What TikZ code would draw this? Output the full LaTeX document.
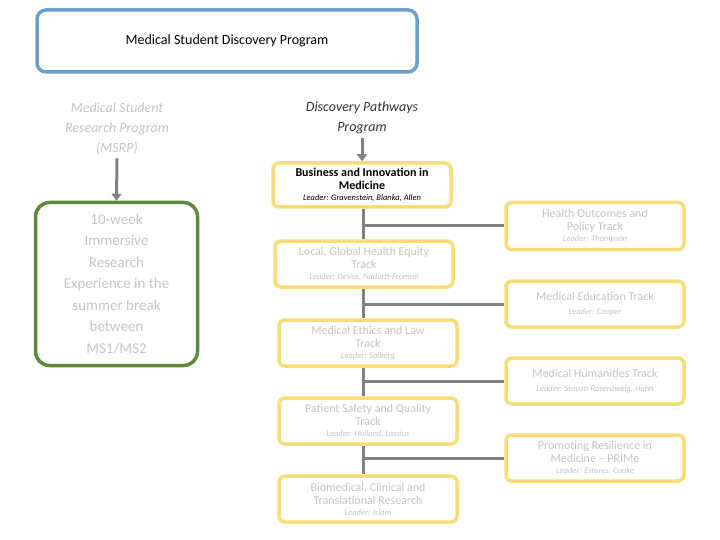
\documentclass[tikz,border=0pt]{standalone}
\usepackage{fontspec}
\setmainfont{Carlito}
\usetikzlibrary{arrows.meta, positioning}
\definecolor{boxblue}{HTML}{6A9FD0}
\definecolor{boxgreen}{HTML}{5E8A3C}
\definecolor{boxyellow}{HTML}{F8DC78}
\definecolor{fadetext}{HTML}{C4C4C4}
\definecolor{linegray}{HTML}{808080}
\newcommand{\leadtxt}{\fontsize{8.5}{9}\selectfont\itshape}

\begin{document}
\begin{tikzpicture}[
		x=1pt, y=1pt,
		% track boxes
		track/.style={draw=boxyellow, line width=3.5pt, rounded corners=6pt, fill=white,
			minimum width=178pt, align=center, text=fadetext, font=\fontsize{12}{13}\selectfont, inner sep=2pt},
		% connectors
		link/.style={draw=linegray, line width=3pt},
		arrow/.style={-{Triangle[length=7pt, width=10pt]}, draw=linegray, line width=3pt}
		]
		\useasboundingbox (0,0) rectangle (720,-540);
		
		% === TOP ===
		\node[draw=boxblue, line width=3.5pt, rounded corners=9pt, minimum width=380pt, minimum height=62pt,
			font=\fontsize{14}{16}\selectfont] (msdp) at (227,-41) {Medical Student Discovery Program};
		
		\node[align=center, text=fadetext, font=\fontsize{14}{20}\selectfont\itshape] (msrp) at (117,-129)
			{Medical Student\\Research Program\\(MSRP)};
		\node[align=center, text=black!80, font=\fontsize{14}{20}\selectfont\itshape] (dpp) at (362,-118)
			{Discovery Pathways\\Program};
		
		\node[draw=boxgreen, line width=3.5pt, rounded corners=14pt, minimum width=162pt, minimum height=163pt,
			align=center, text=fadetext, font=\fontsize{15}{21.5}\selectfont] (immersive) at (116.5,-284)
			{10-week\\Immersive\\Research\\Experience in the\\summer break\\between\\MS1/MS2};
		
		% === LEFT SPINE OF TRACKS ===
		\node[track, text=black, minimum height=44pt] (business) at (362,-185)
			{\textbf{Business and Innovation in}\\\textbf{Medicine}\\[-2pt]{\leadtxt Leader: Gravenstein, Blanka, Allen}};
		\node[track, minimum height=46pt] (equity) at (364,-264)
			{Local, Global Health Equity\\Track\\[-2pt]{\leadtxt Leader: DeVos, Nadurft-Froman}};
		\node[track, minimum height=46pt] (ethics) at (368,-343)
			{Medical Ethics and Law\\Track\\[-2pt]{\leadtxt Leader: Solberg}};
		\node[track, minimum height=46pt] (safety) at (368,-421)
			{Patient Safety and Quality\\Track\\[-2pt]{\leadtxt Leader: Holland, Lassius}};
		\node[track, minimum height=46pt] (biomed) at (368,-499)
			{Biomedical, Clinical and\\Translational Research\\[-2pt]{\leadtxt Leader: Islam}};
		
		% === RIGHT TRACKS ===
		\node[track, minimum height=47pt] (outcomes) at (595,-226)
			{Health Outcomes and\\Policy Track\\[-2pt]{\leadtxt Leader: Thompson}};
		\node[track, minimum height=46pt] (education) at (595,-304)
			{Medical Education Track\\[1pt]{\leadtxt Leader: Cooper}};
		\node[track, minimum height=46pt] (humanities) at (595,-381)
			{Medical Humanities Track\\[1pt]{\leadtxt Leader: Stoyan-Rosenzweig, Hahn}};
		\node[track, minimum height=46pt] (resilience) at (595,-458)
			{Promoting Resilience in\\Medicine -- PRIMe\\[-2pt]{\leadtxt Leader: Estores, Cooke}};
		
		% === CONNECTORS ===
		\coordinate (spine) at (363,0);
		\draw[arrow] (msrp.south) -- (immersive.north);
		\draw[arrow] (dpp.south) -- (business.north);
		\foreach \a/\b in {business/equity, equity/ethics, ethics/safety, safety/biomed}
			\draw[link] (\a.south -| spine) -- (\b.north -| spine);
		\foreach \t in {outcomes, education, humanities, resilience}
			\draw[link] (\t.west -| spine) -- (\t.west);
		
	\end{tikzpicture}
\end{document}
